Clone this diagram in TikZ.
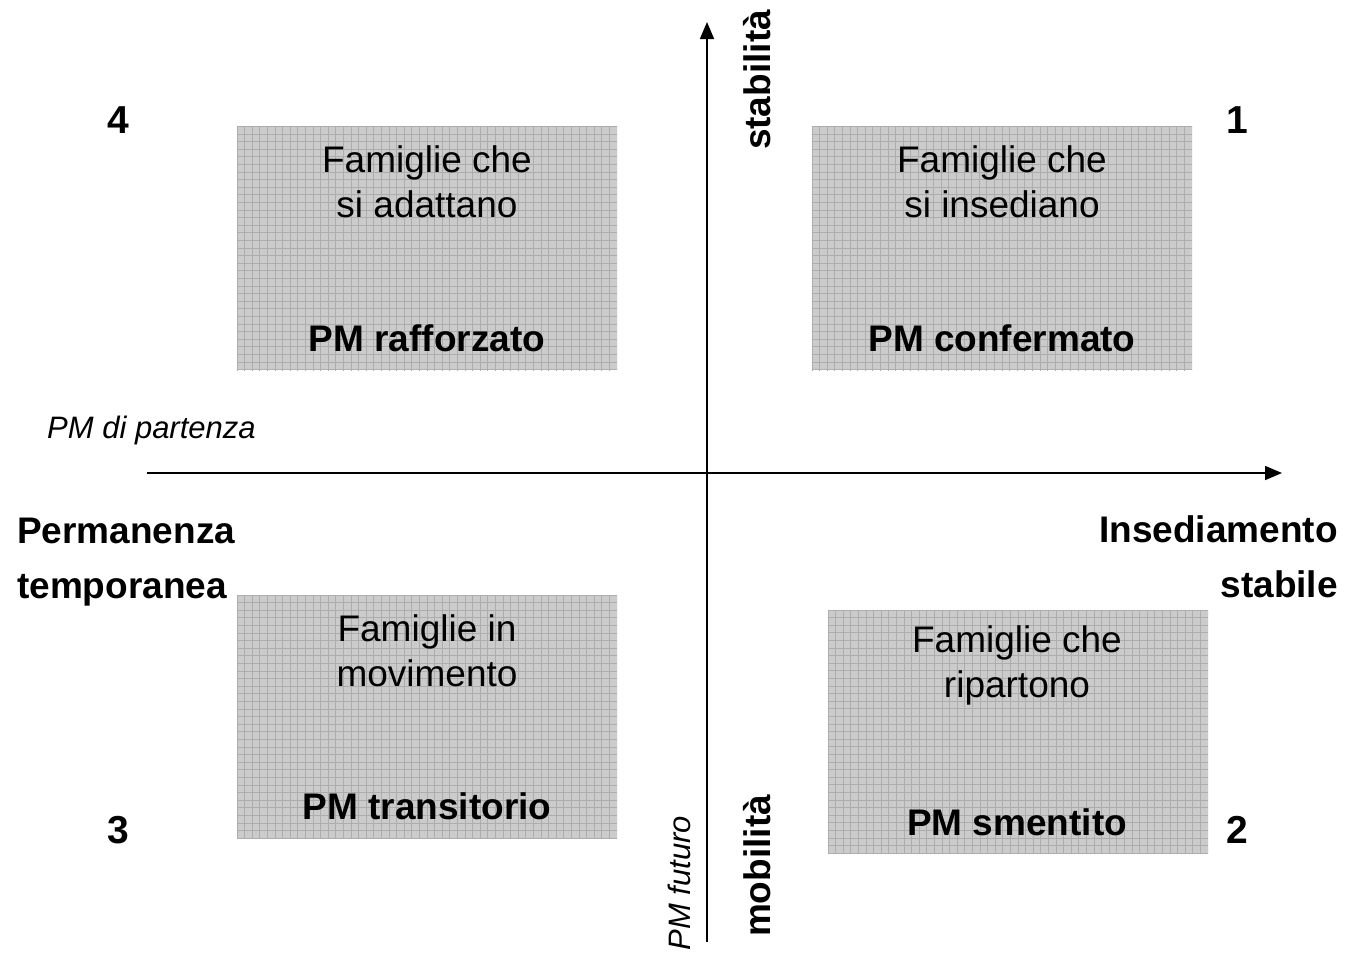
\documentclass[tikz,border=0pt]{standalone}
\usepackage{fontspec}
\setmainfont{Liberation Sans}
\usepackage{xcolor}
\usetikzlibrary{arrows.meta}

\definecolor{boxgray}{HTML}{CBCBCB}
\definecolor{gridgray}{HTML}{ADADAD}

\tikzset{
  quad/.style={fill=boxgray, minimum width=380pt, minimum height=244pt, inner sep=0pt,
    path picture={\draw[gridgray, line width=0.7pt]
      ([shift={(-1pt,-1pt)}]path picture bounding box.south west) grid[step=7.6pt]
      (path picture bounding box.north east);}},
  famtext/.style={font=\fontsize{37}{45}\selectfont, align=center, inner sep=0pt},
  pmtext/.style={font=\fontsize{37}{45}\selectfont\bfseries, inner sep=0pt},
  numtext/.style={font=\fontsize{39}{45}\selectfont\bfseries, inner sep=0pt},
  axislabel/.style={font=\fontsize{37}{55}\selectfont\bfseries, inner sep=0pt},
  axisnote/.style={font=\fontsize{31}{40}\selectfont\itshape, inner sep=0pt},
  axis/.style={line width=1.7pt, -{Triangle[length=17pt,width=14pt]}}
}

\begin{document}
\begin{tikzpicture}[x=1pt,y=-1pt]
            \useasboundingbox (0,0) rectangle (1345,953);

            % axes
            \coordinate (xs) at (147,473);
            \coordinate (xe) at (1282,473);
            \coordinate (ys) at (707,942);
            \coordinate (ye) at (707,22);
            \draw[axis] (xs) -- (xe);
            \draw[axis] (ys) -- (ye);

            % quadrants
            \node[quad] (q4) at (427,248) {};
            \node[quad] (q1) at (1002,248) {};
            \node[quad] (q3) at (427,716.5) {};
            \node[quad] (q2) at (1018,731.5) {};

            \node[famtext] (f4) at (427,182) {Famiglie che\\si adattano};
            \node[pmtext] (p4) at (427,338) {PM rafforzato};
            \node[famtext] (f1) at (1002,182) {Famiglie che\\si insediano};
            \node[pmtext] (p1) at (1002,338) {PM confermato};
            \node[famtext] (f3) at (427,651) {Famiglie in\\movimento};
            \node[pmtext] (p3) at (427,806) {PM transitorio};
            \node[famtext] (f2) at (1017,665) {Famiglie che\\ripartono};
            \node[pmtext] (p2) at (1017,822) {PM smentito};

            % quadrant numbers
            \node[numtext] (n4) at (118,120) {4};
            \node[numtext] (n1) at (1237,120) {1};
            \node[numtext] (n3) at (118,830) {3};
            \node[numtext] (n2) at (1237,830) {2};

            % axis labels
            \node[axislabel, rotate=90] (stab) at (757,80) {stabilità};
            \node[axislabel, rotate=90] (mob) at (757,866) {mobilità};
            \node[axisnote, rotate=90] (fut) at (679,883) {PM futuro};
            \node[axisnote, anchor=west] (part) at (47,430) {PM di partenza};
            \node[axislabel, align=left, anchor=west] (perm) at (17,562) {Permanenza\\temporanea};
            \node[axislabel, align=right, anchor=east] (ins) at (1338,557) {Insediamento\\stabile};
        \end{tikzpicture}
\end{document}
